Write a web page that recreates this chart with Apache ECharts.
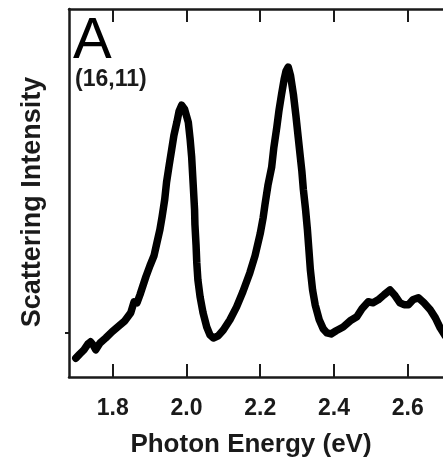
<!DOCTYPE html>
<html>
<head>
<meta charset="utf-8">
<script src="https://cdn.jsdelivr.net/npm/echarts@6/dist/echarts.min.js"></script>
<style>
  html, body { margin: 0; padding: 0; background: #fff; }
  #chart { width: 443px; height: 461px; }
</style>
</head>
<body>
<div id="chart"></div>
<script>
// Scattering spectrum of a single particle: photon energy (eV) vs. intensity (a.u.)
const energy = [
  1.700, 1.711, 1.722, 1.733, 1.740, 1.747, 1.754, 1.766, 1.781, 1.798,
  1.817, 1.833, 1.849, 1.858, 1.866, 1.874, 1.890, 1.901, 1.912, 1.920,
  1.928, 1.934, 1.941, 1.946, 1.953, 1.960, 1.966, 1.974, 1.980, 1.987,
  1.995, 2.005, 2.010, 2.014, 2.019, 2.022, 2.023, 2.026, 2.028, 2.031,
  2.037, 2.045, 2.055, 2.064, 2.073, 2.086, 2.100, 2.118, 2.136, 2.153,
  2.172, 2.186, 2.200, 2.208, 2.213, 2.221, 2.231, 2.237, 2.245, 2.251,
  2.258, 2.265, 2.270, 2.276, 2.282, 2.290, 2.297, 2.303, 2.308, 2.313,
  2.317, 2.323, 2.328, 2.332, 2.336, 2.342, 2.349, 2.360, 2.371, 2.381,
  2.392, 2.406, 2.425, 2.444, 2.462, 2.476, 2.493, 2.506, 2.520, 2.536,
  2.552, 2.566, 2.579, 2.590, 2.602, 2.614, 2.629, 2.644, 2.661, 2.675,
  2.688, 2.702
];
const intensity = [
  -0.094, -0.078, -0.063, -0.041, -0.033, -0.045, -0.063, -0.037, -0.019, 0.004,
  0.026, 0.045, 0.075, 0.116, 0.112, 0.142, 0.209, 0.250, 0.287, 0.336,
  0.384, 0.433, 0.496, 0.560, 0.623, 0.683, 0.735, 0.784, 0.825, 0.847,
  0.832, 0.784, 0.720, 0.657, 0.534, 0.459, 0.403, 0.328, 0.261, 0.198,
  0.134, 0.075, 0.022, -0.008, -0.019, -0.011, 0.011, 0.049, 0.097, 0.153,
  0.224, 0.287, 0.369, 0.429, 0.478, 0.549, 0.616, 0.690, 0.765, 0.828,
  0.888, 0.944, 0.974, 0.989, 0.959, 0.888, 0.806, 0.728, 0.664, 0.601,
  0.534, 0.459, 0.384, 0.310, 0.235, 0.160, 0.105, 0.049, 0.015, 0.000,
  -0.004, 0.008, 0.022, 0.045, 0.060, 0.090, 0.116, 0.112, 0.123, 0.142,
  0.160, 0.138, 0.112, 0.105, 0.105, 0.123, 0.131, 0.112, 0.086, 0.056,
  0.019, -0.011
];
const xTicks = [1.8, 2.0, 2.2, 2.4, 2.6];
const yTicks = [0];
const xRange = [1.6815, 2.6957];
const yRange = [-0.164, 1.205];
const xTitle = 'Photon Energy (eV)';
const yTitle = 'Scattering Intensity';
const panelLabel = 'A';
const particleLabel = '(16,11)';

const FONT = '"Liberation Sans", Arial, Helvetica, sans-serif';
const INK = '#1a1a1a';

const chart = echarts.init(document.getElementById('chart'), null, { renderer: 'canvas' });

const points = energy.map((e, i) => [e, intensity[i]]);

const axisLine = { show: true, onZero: false, lineStyle: { color: INK, width: 2.5 } };
const xTick = {
  show: true, inside: true, length: 13, customValues: xTicks,
  lineStyle: { color: INK, width: 2 }
};

chart.setOption({
  animation: false,
  backgroundColor: '#fff',
  grid: { left: 69, right: 0, top: 9, bottom: 84, containLabel: false },
  xAxis: [
    {
      type: 'value',
      position: 'bottom',
      min: xRange[0],
      max: xRange[1],
      axisLine: axisLine,
      splitLine: { show: false },
      axisTick: xTick,
      axisLabel: {
        show: true, customValues: xTicks, margin: 20,
        formatter: v => v.toFixed(1),
        color: INK, fontFamily: FONT, fontWeight: 'bold', fontSize: 23
      }
    },
    {
      type: 'value',
      position: 'top',
      min: xRange[0],
      max: xRange[1],
      axisLine: axisLine,
      splitLine: { show: false },
      axisTick: xTick,
      axisLabel: { show: false }
    }
  ],
  yAxis: {
    type: 'value',
    min: yRange[0],
    max: yRange[1],
    axisLine: axisLine,
    splitLine: { show: false },
    axisTick: {
      show: true, inside: false, length: 4, customValues: yTicks,
      lineStyle: { color: INK, width: 2 }
    },
    axisLabel: { show: false, customValues: yTicks }
  },
  series: [
    {
      type: 'line',
      data: points,
      xAxisIndex: 0,
      showSymbol: false,
      smooth: false,
      clip: true,
      lineStyle: { color: '#000', width: 7.5, cap: 'round', join: 'round' }
    }
  ],
  graphic: [
    {
      type: 'text',
      left: 73,
      top: 13,
      style: { text: panelLabel, fill: '#000', font: 'normal 58px ' + FONT }
    },
    {
      type: 'text',
      left: 75,
      top: 68,
      style: { text: particleLabel, fill: INK, font: 'bold 23px ' + FONT }
    },
    {
      type: 'text',
      x: 251,
      y: 445,
      style: {
        text: xTitle, fill: INK, font: 'bold 26px ' + FONT,
        textAlign: 'center', textVerticalAlign: 'middle'
      }
    },
    {
      type: 'text',
      x: 33,
      y: 202,
      rotation: Math.PI / 2,
      style: {
        text: yTitle, fill: INK, font: 'bold 27px ' + FONT,
        textAlign: 'center', textVerticalAlign: 'middle'
      }
    }
  ]
});
</script>
</body>
</html>
